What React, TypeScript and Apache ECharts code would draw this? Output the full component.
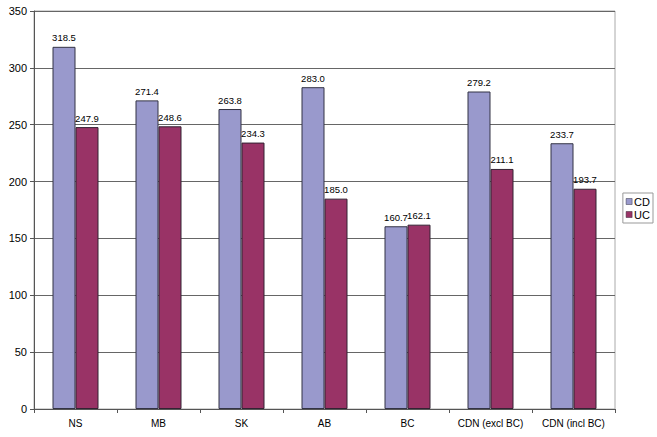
import React, { useEffect, useRef } from "react";
import * as echarts from "echarts";

const categories = ["NS", "MB", "SK", "AB", "BC", "CDN (excl BC)", "CDN (incl BC)"];
const cdValues = [318.5, 271.4, 263.8, 283.0, 160.7, 279.2, 233.7];
const ucValues = [247.9, 248.6, 234.3, 185.0, 162.1, 211.1, 193.7];

export default function App() {
  const ref = useRef<HTMLDivElement>(null);
  useEffect(() => {
    const chart = echarts.init(ref.current!, null, { renderer: "svg" });
    const font = "Liberation Sans, Arial, sans-serif";
    const label = {
      show: true,
      position: "top",
      formatter: (p: any) => p.value.toFixed(1),
      color: "#000",
      fontSize: 9.5,
      fontFamily: font,
      distance: 4,
    };
    chart.setOption({
      animation: false,
      backgroundColor: "#fff",
      grid: { left: 34, top: 11, right: 42, bottom: 28, show: true, borderColor: "#aaa", borderWidth: 1 },
      legend: {
        orient: "vertical",
        right: 4,
        top: 193,
        itemWidth: 6,
        itemHeight: 6,
        itemGap: 2,
        padding: [3, 3, 3, 3],
        borderColor: "#999",
        borderWidth: 1,
        textStyle: { fontSize: 11, fontFamily: font, color: "#000", padding: [0, 0, 0, -3] },
        data: [
          { name: "CD", icon: "rect", itemStyle: { borderColor: "#333344", borderWidth: 0.5 } },
          { name: "UC", icon: "rect", itemStyle: { borderColor: "#332233", borderWidth: 0.5 } },
        ],
      },
      xAxis: {
        type: "category",
        data: categories,
        axisLine: { lineStyle: { color: "#555" } },
        axisTick: { show: true, length: 4, lineStyle: { color: "#555" } },
        axisLabel: { color: "#000", fontSize: 10, fontFamily: font, margin: 9, interval: 0 },
      },
      yAxis: {
        type: "value",
        min: 0,
        max: 350,
        interval: 50,
        axisLine: { show: true, lineStyle: { color: "#555" } },
        axisTick: { show: true, length: 4, lineStyle: { color: "#555" } },
        axisLabel: { color: "#000", fontSize: 11, fontFamily: font, margin: 7 },
        splitLine: { lineStyle: { color: "#666", width: 1 } },
      },
      series: [
        {
          name: "CD",
          type: "bar",
          data: cdValues,
          barWidth: 23,
          barGap: "0%",
          itemStyle: { color: "#9999cc", borderColor: "#333344", borderWidth: 1 },
          label,
        },
        {
          name: "UC",
          type: "bar",
          data: ucValues,
          barWidth: 23,
          itemStyle: { color: "#993366", borderColor: "#332233", borderWidth: 1 },
          label,
        },
      ],
    });
    return () => chart.dispose();
  }, []);
  return <div ref={ref} style={{ width: 657, height: 437, position: "absolute", left: 0, top: 0 }} />;
}
